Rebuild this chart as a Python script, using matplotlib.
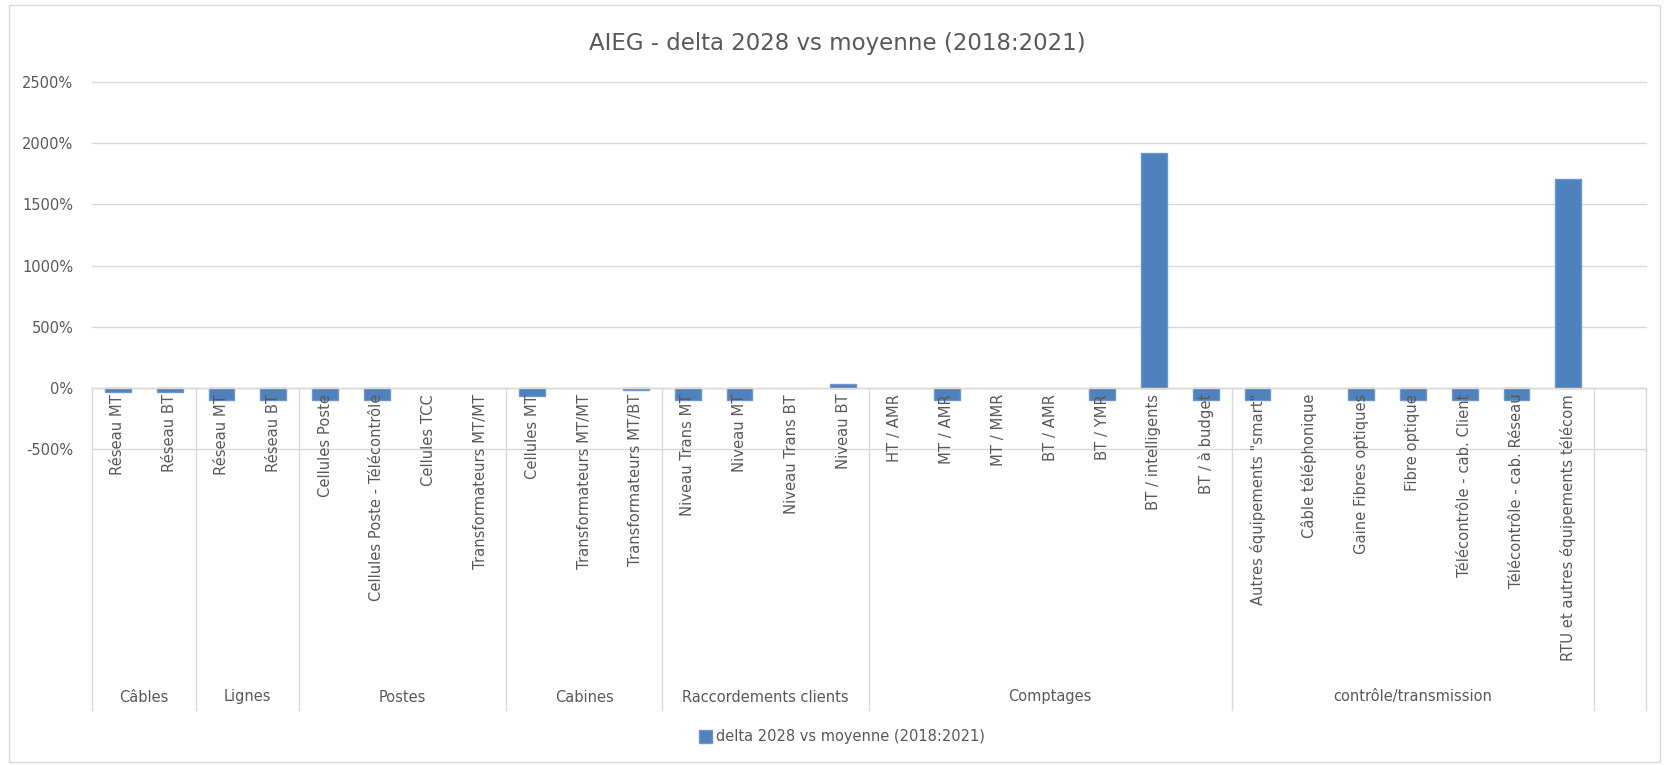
import numpy as np
import matplotlib.pyplot as plt
from matplotlib.patches import Rectangle
from matplotlib.transforms import blended_transform_factory

# Data (values in %)
groups = ['Câbles', 'Lignes', 'Postes', 'Cabines', 'Raccordements clients',
          'Comptages', 'contrôle/transmission', '']
group_sizes = [2, 2, 4, 3, 4, 7, 7, 1]

labels = ['Réseau MT', 'Réseau BT',
          'Réseau MT', 'Réseau BT',
          'Cellules Poste', 'Cellules Poste - Télécontrôle', 'Cellules TCC', 'Transformateurs MT/MT',
          'Cellules MT', 'Transformateurs MT/MT', 'Transformateurs MT/BT',
          'Niveau Trans MT', 'Niveau MT', 'Niveau Trans BT', 'Niveau BT',
          'HT / AMR', 'MT / AMR', 'MT / MMR', 'BT / AMR', 'BT / YMR', 'BT / intelligents', 'BT / à budget',
          'Autres équipements "smart"', 'Câble téléphonique', 'Gaine Fibres optiques', 'Fibre optique',
          'Télécontrôle - cab. Client', 'Télécontrôle - cab. Réseau', 'RTU et autres équipements télécom',
          '']

values = [-30, -30,
          -100, -100,
          -100, -100, np.nan, np.nan,
          -70, np.nan, -15,
          -100, -100, np.nan, 33,
          np.nan, -100, np.nan, np.nan, -100, 1922, -100,
          -100, np.nan, -100, -100, -100, -100, 1703,
          np.nan]

series_name = 'delta 2028 vs moyenne (2018:2021)'
title = 'AIEG - delta 2028 vs moyenne (2018:2021)'

txt = '#595959'
grid = '#D9D9D9'
blue = '#4F81BD'

W, H = 1667, 765
fig = plt.figure(figsize=(W / 100, H / 100), dpi=100)
ax = fig.add_axes([92 / W, 1 - 449 / H, (1646 - 92) / W, (449 - 82) / H])

x = np.arange(len(labels))
bars = ax.bar(x, values, width=0.5, color=blue, edgecolor='#7097CB', linewidth=1.0, zorder=2)

ax.set_xlim(-0.5, len(labels) - 0.5)
ax.set_ylim(-500, 2500)
ax.set_yticks(np.arange(-500, 2501, 500))
ax.set_yticklabels(['%d%%' % v for v in np.arange(-500, 2501, 500)])
ax.tick_params(axis='y', length=0, pad=13.5, labelsize=10.5, labelcolor=txt)
ax.set_xticks([])
ax.yaxis.grid(True, color=grid, linewidth=1)
for gl in ax.get_ygridlines():
    gl.set_clip_on(False)
ax.set_axisbelow(True)
for s in ax.spines.values():
    s.set_visible(False)

# category axis line sits on top of the bars, like Excel
ax.axhline(0, color=grid, linewidth=1, zorder=3)

# inner category labels, rotated, hanging below the zero axis
for i, lab in enumerate(labels):
    ax.annotate(lab, xy=(i, 0), xytext=(0, -6), textcoords='offset pixels',
                rotation=90, ha='center', va='top', fontsize=10.6, color=txt,
                annotation_clip=False, zorder=4)

# group separators and outer labels
zero_fig = fig.transFigure.inverted().transform(ax.transData.transform((0, 0)))[1]
bottom_fig = 1 - 710 / H
grp_y = 1 - 697 / H
trans = blended_transform_factory(ax.transData, fig.transFigure)
edges = np.concatenate([[0], np.cumsum(group_sizes)]) - 0.5
for e in edges:
    ax.plot([e, e], [zero_fig, bottom_fig], transform=trans, color=grid,
            linewidth=1, clip_on=False, zorder=1)
for g, a, b in zip(groups, edges[:-1], edges[1:]):
    ax.text((a + b) / 2, grp_y, g, transform=trans, ha='center', va='center',
            fontsize=10.5, color=txt)

fig.text(0.5025, 1 - 50 / H, title, ha='center', va='baseline', fontsize=16.5, color=txt)

fig.legend([bars], [series_name], loc='center', bbox_to_anchor=(0.505, 1 - 737 / H),
           frameon=False, handlelength=0.9, handleheight=0.9, handletextpad=0.25,
           fontsize=10.5, labelcolor=txt)

fig.patches.append(Rectangle((9 / W, 3 / H), (1660 - 9) / W, (762 - 5) / H,
                             transform=fig.transFigure, fill=False,
                             edgecolor=grid, linewidth=1))

fig.savefig('out.png', dpi=100, facecolor='white')
